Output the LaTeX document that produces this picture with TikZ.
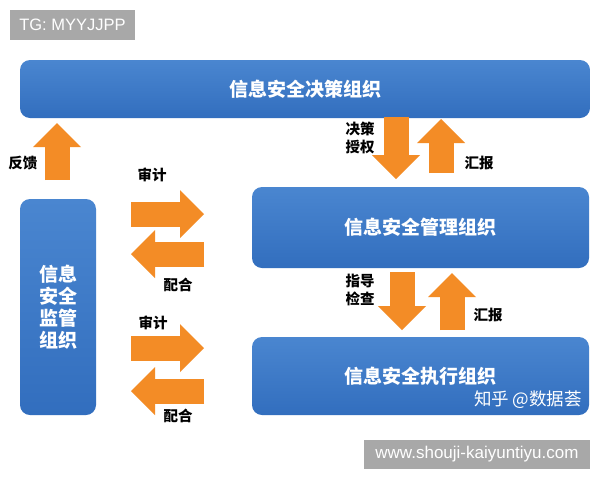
\documentclass[tikz,border=0pt]{standalone}
\usepackage{fontspec}
\setmainfont{Noto Sans CJK SC}
\newfontfamily\latinfont{Liberation Sans}
\usetikzlibrary{arrows.meta}
\definecolor{orgblue}{RGB}{50,110,190}
\definecolor{orglight}{RGB}{74,134,208}
\definecolor{arrorange}{RGB}{243,140,38}
\definecolor{taggray}{RGB}{168,168,168}
\tikzset{orgbox/.style={rectangle,rounded corners=10pt,top color=orglight,bottom color=orgblue,text=white,inner sep=0pt,font=\fontsize{19}{22}\selectfont\bfseries}}
\tikzset{fatarrow/.style={draw=arrorange,line width=25pt,-{Triangle[length=24pt,width=48pt,line width=0pt,fill=arrorange]}}}
\tikzset{lbl/.style={inner sep=0pt,align=center,font=\fontsize{14.5}{18}\selectfont\bfseries}}
\tikzset{tag/.style={fill=taggray,text=white,inner sep=0pt,font=\latinfont\fontsize{17}{20}\selectfont}}

\begin{document}
\begin{tikzpicture}[x=1pt,y=-1pt]
          \fill[white] (0,0) rectangle (600,480);
          \useasboundingbox (0,0) rectangle (600,480);

          % Organisations
          \node [orgbox,minimum width=570pt,minimum height=58pt] (jc) at (305,89) {信息安全决策组织};
          \node [orgbox,minimum width=76pt,minimum height=216pt,align=center] (jg) at (58,307) {信息\\安全\\监管\\组织};
          \node [orgbox,minimum width=337pt,minimum height=81pt] (gl) at (420.5,227.5) {信息安全管理组织};
          \node [orgbox,minimum width=337pt,minimum height=78pt] (zx) at (420.5,376) {信息安全执行组织};
          \node [text=white,inner sep=0pt,font=\fontsize{17.5}{20}\selectfont] (zh) at (528,400) {知乎 @数据荟};

          % Tags
          \node [tag,minimum width=125pt,minimum height=30pt,font=\latinfont\fontsize{16.5}{20}\selectfont] (tg) at (72.5,25) {TG: MYYJJPP};
          \node [tag,minimum width=226pt,minimum height=29pt] (www) at (477,454.5) {www.shouji-kaiyuntiyu.com};

          % Arrow ends
          \coordinate (fb0) at (57,180);   \coordinate (fb1) at (57,123);
          \coordinate (sj0) at (131,214);  \coordinate (sj1) at (204,214);
          \coordinate (ph0) at (204,254);  \coordinate (ph1) at (131,254);
          \coordinate (sj2) at (131,348);  \coordinate (sj3) at (204,348);
          \coordinate (ph2) at (204,391);  \coordinate (ph3) at (131,391);
          \coordinate (jq0) at (396,117);  \coordinate (jq1) at (396,179);
          \coordinate (hb0) at (441,173);  \coordinate (hb1) at (441,119);
          \coordinate (zd0) at (402,272);  \coordinate (zd1) at (402,330);
          \coordinate (hb2) at (452,330);  \coordinate (hb3) at (452,273);

          % Arrows
          \draw [fatarrow] (fb0) -- (fb1);
          \draw [fatarrow] (sj0) -- (sj1);
          \draw [fatarrow] (ph0) -- (ph1);
          \draw [fatarrow] (sj2) -- (sj3);
          \draw [fatarrow] (ph2) -- (ph3);
          \draw [fatarrow] (jq0) -- (jq1);
          \draw [fatarrow] (hb0) -- (hb1);
          \draw [fatarrow] (zd0) -- (zd1);
          \draw [fatarrow] (hb2) -- (hb3);

          % Labels
          \node [lbl] (fk) at (23,163) {反馈};
          \node [lbl] (sjA) at (152,175) {审计};
          \node [lbl] (phA) at (178,285) {配合};
          \node [lbl] (sjB) at (153,323) {审计};
          \node [lbl] (phB) at (178,416) {配合};
          \node [lbl] (jqA) at (360,138) {决策\\授权};
          \node [lbl] (hbA) at (479,163) {汇报};
          \node [lbl] (zdA) at (360,290) {指导\\检查};
          \node [lbl] (hbB) at (488,315) {汇报};
\end{tikzpicture}
\end{document}
